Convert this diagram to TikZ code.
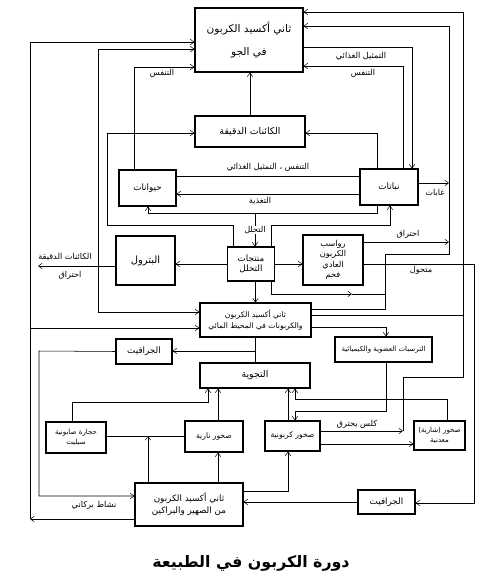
\documentclass[tikz,border=0pt]{standalone}
\usepackage{fontspec}
\usetikzlibrary{arrows.meta}
\newfontfamily\arabicfont[Script=Arabic]{DejaVu Sans}
\TeXXeTstate=1
\newcommand{\ar}[1]{{\arabicfont\beginR #1\endR}}
\tikzset{
  blk/.style={draw, line width=0.9pt, inner sep=1pt, align=center, font=\fontsize{7.5}{9}\selectfont},
  sz/.style 2 args={minimum width={#1*0.3mm}, minimum height={#2*0.3mm}},
  arr/.style={-{Straight Barb[length=1.1mm,width=1.6mm]}, line width=0.45pt},
  arrb/.style={{Straight Barb[length=1.1mm,width=1.6mm]}-{Straight Barb[length=1.1mm,width=1.6mm]}, line width=0.45pt},
  ln/.style={line width=0.45pt},
  lbl/.style={font=\fontsize{7}{8}\selectfont, inner sep=0pt},
}
\begin{document}
\begin{tikzpicture}[x=0.3mm, y=-0.3mm]
  \useasboundingbox (0,0) rectangle (502,584);
  \node[blk, sz={108}{64}, font=\fontsize{9}{20}\selectfont] (atm) at (249,40) {\ar{ثاني أكسيد الكربون}\\\ar{في الجو}};
  \node[blk, sz={110}{31}, font=\fontsize{8}{10}\selectfont] (micro) at (250,131.5) {\ar{الكائنات الدقيقة}};
  \node[blk, sz={57}{36}] (anim) at (147.5,188) {\ar{حيوانات}};
  \node[blk, sz={58}{36}] (plant) at (389,187) {\ar{نباتات}};
  \node[blk, sz={59}{49}, font=\fontsize{8.5}{10}\selectfont] (petro) at (145.5,260.5) {\ar{البترول}};
  \node[blk, sz={47}{34}] (decomp) at (251,264) {\ar{منتجات}\\\ar{التحلل}};
  \node[blk, sz={60}{50}, font=\fontsize{7}{9}\selectfont] (depo) at (333,260) {\ar{رواسب}\\\ar{الكربون}\\\ar{العادي}\\\ar{فحم}};
  \node[blk, sz={111}{34}, font=\fontsize{6.5}{9}\selectfont] (ocean) at (255.5,320) {\ar{ثاني أكسيد الكربون}\\\ar{والكربونات في المحيط المائي}};
  \node[blk, sz={56}{25}] (graphT) at (144,351.5) {\ar{الجرافيت}};
  \node[blk, sz={97}{25}, font=\fontsize{6}{8}\selectfont] (sedi) at (383.5,349.5) {\ar{الترسبات العضوية والكيميائية}};
  \node[blk, sz={110}{25}, font=\fontsize{8}{10}\selectfont] (weath) at (255,375.5) {\ar{التجوية}};
  \node[blk, sz={60}{31}, font=\fontsize{6}{8}\selectfont] (soap) at (76,437.5) {\ar{حجارة صابونية}\\\ar{سيليت}};
  \node[blk, sz={58}{31}, font=\fontsize{6.5}{8}\selectfont] (igne) at (214,436.5) {\ar{صخور نارية}};
  \node[blk, sz={55}{30}, font=\fontsize{6.5}{8}\selectfont] (carb) at (292.5,436) {\ar{صخور كربونية}};
  \node[blk, sz={51}{29}, font=\fontsize{6}{8}\selectfont] (rock) at (439.5,435.5) {\ar{صخور (شارية)}\\\ar{معدنية}};
  \node[blk, sz={108}{43}, font=\fontsize{7.5}{10}\selectfont] (volc) at (189,504.5) {\ar{ثاني أكسيد الكربون}\\\ar{من الصهير والبراكين}};
  \node[blk, sz={57}{24}] (graphB) at (386.5,502) {\ar{الجرافيت}};

  \node[lbl] (lRespL) at (162,73) {\ar{التنفس}};
  \node[lbl] (lPhoto) at (361,56) {\ar{التمثيل الغذائي}};
  \node[lbl] (lRespR) at (363,73) {\ar{التنفس}};
  \node[lbl] (lRespPh) at (268,167) {\ar{التنفس ، التمثيل الغذائي}};
  \node[lbl] (lFeed) at (260,201) {\ar{التغذية}};
  \node[lbl] (lForest) at (435,193) {\ar{غابات}};
  \node[lbl] (lDecay) at (255,230) {\ar{التحلل}};
  \node[lbl] (lBurnR) at (408,234) {\ar{احتراق}};
  \node[lbl] (lMeta) at (421,270) {\ar{متحول}};
  \node[lbl] (lMicro) at (65,257) {\ar{الكائنات الدقيقة}};
  \node[lbl] (lBurnL) at (70,275) {\ar{احتراق}};
  \node[lbl] (lLime) at (357,424) {\ar{كلس يحترق}};
  \node[lbl] (lVolc) at (94,505) {\ar{نشاط بركاني}};
  \node[font=\bfseries\fontsize{13.5}{15}\selectfont] (title) at (251,563) {\ar{دورة الكربون في الطبيعة}};

  \coordinate (oL) at (30,42);   \coordinate (oLb) at (30,519);  \coordinate (oLo) at (30,328);
  \coordinate (eL) at (98,49);   \coordinate (eLb) at (98,312);
  \coordinate (rA) at (134,67);
  \coordinate (mA) at (107,133); \coordinate (mB) at (233,225);  \coordinate (mC) at (377,133);
  \coordinate (pA) at (412,47);  \coordinate (pB) at (403,66);
  \coordinate (aP) at (300,176); \coordinate (aF) at (300,194);
  \coordinate (qA) at (385,309); \coordinate (qB) at (449,254);  \coordinate (qC) at (449,26);
  \coordinate (fA) at (449,183); \coordinate (cA) at (449,242);
  \coordinate (sA) at (463,315); \coordinate (sB) at (463,12);   \coordinate (sC) at (463,377);
  \coordinate (lA) at (403,431);
  \coordinate (tA) at (474,264); \coordinate (tB) at (474,503);
  \coordinate (dA) at (148,213); \coordinate (dB) at (377,213);  \coordinate (dC) at (255,213);
  \coordinate (nA) at (271,225); \coordinate (nB) at (390,225);
  \coordinate (kA) at (38,266);
  \coordinate (uA) at (271,294); \coordinate (uM) at (352,294);  \coordinate (uB) at (385,294);
  \coordinate (wA) at (386,327); \coordinate (wB) at (386,411);  \coordinate (wC) at (295,411);
  \coordinate (gA) at (255.5,351);
  \coordinate (hA) at (39,351);  \coordinate (hB) at (39,496);
  \coordinate (vA) at (72,402);  \coordinate (vB) at (208,402);  \coordinate (vC) at (218,420);
  \coordinate (vD) at (288,420);
  \coordinate (xA) at (447,399); \coordinate (xB) at (295,399);
  \coordinate (yA) at (148,436); \coordinate (zA) at (288,491);  \coordinate (rE) at (350,444);

  \draw[arr] (volc.west |- oLb) -- (oLb);
  \draw[arr] (oLb) |- (atm.west |- oL);
  \draw[arr] (oLo) -- (ocean.west |- oLo);
  \draw[arrb] (ocean.west |- eLb) -| (eL) -- (atm.west |- eL);
  \draw[arr] (anim.north -| rA) |- (atm.west |- rA);
  \draw[arr] (decomp.north -| mB) -- (mB) -| (mA) -- (micro.west |- mA);
  \draw[arr] (micro.north) -- (micro.north |- atm.south);
  \draw[arr] (plant.north -| mC) |- (micro.east |- mC);
  \draw[arr] (atm.east |- pA) -| (plant.north -| pA);
  \draw[arr] (plant.north -| pB) |- (atm.east |- pB);
  \draw[arr] (ocean.east |- qA) -- (qA) |- (qB) |- (atm.east |- qC);
  \draw[arr] (plant.east |- fA) -- (fA);
  \draw[arr] (depo.east |- cA) -- (cA);
  \draw[arr] (ocean.east |- sA) -- (sA) -- (sB) -- (atm.east |- sB);
  \draw[arr] (carb.east |- lA) -- (lA);
  \draw[ln] (lA) |- (sC) -- (sA);
  \draw[arr] (depo.east |- tA) -- (tA) -- (tB) -- (graphB.east |- tB);
  \draw[ln] (anim.east |- aP) -- (plant.west |- aP);
  \draw[arr] (plant.west |- aF) -- (anim.east |- aF);
  \draw[arr] (plant.south -| dB) -- (dB) -- (dA) -- (anim.south -| dA);
  \draw[ln] (dC) -- (lDecay.north);
  \draw[arr] (lDecay.south) -- (decomp.north -| lDecay.south);
  \draw[arr] (decomp.north -| nA) -- (nA) -- (nB) -- (plant.south -| nB);
  \draw[arr] (decomp.west) -- (decomp.west -| petro.east);
  \draw[arr] (petro.west |- kA) -- (kA);
  \draw[arr] (decomp.east) -- (decomp.east -| depo.west);
  \draw[arr] (decomp.south -| gA) -- (ocean.north -| gA);
  \draw[arr] (decomp.south -| uA) -- (uA) -- (uM);
  \draw[ln] (uM) -- (uB);
  \draw[arr] (ocean.east |- wA) -| (sedi.north -| wA);
  \draw[arr] (sedi.south -| wB) -- (wB) -- (wC) -- (carb.north -| wC);
  \draw[ln] (ocean.south -| gA) -- (weath.north -| gA);
  \draw[arr] (gA) -- (graphT.east |- gA);
  \draw[arr] (graphT.west) -- (hA) -- (hB) -- (volc.west |- hB);
  \draw[arr] (soap.north -| vA) -- (vA) -- (vB) -- (weath.south -| vB);
  \draw[arr] (igne.north -| vC) -- (weath.south -| vC);
  \draw[arr] (carb.north -| vD) -- (weath.south -| vD);
  \draw[arr] (rock.north -| xA) -- (xA) -- (xB) -- (weath.south -| xB);
  \draw[ln] (soap.east |- yA) -- (igne.west |- yA);
  \draw[arr] (volc.north -| yA) -- (yA);
  \draw[arr] (volc.north -| vC) -- (igne.south -| vC);
  \draw[arr] (volc.east |- zA) -| (carb.south -| zA);
  \draw[arr] (graphB.west) -- (volc.east |- graphB.west);
  \draw[arr] (carb.east |- rE) -- (rock.west |- rE);
\end{tikzpicture}
\end{document}
